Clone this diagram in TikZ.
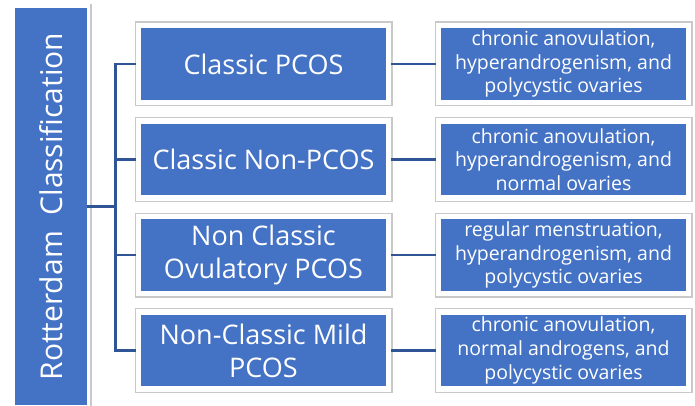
\documentclass[tikz,border=0pt]{standalone}
\usepackage{fontspec}
\setmainfont{Open Sans}
\usetikzlibrary{positioning}
\definecolor{boxblue}{HTML}{4472C4}
\definecolor{linkblue}{HTML}{2F5597}
\definecolor{edgegray}{HTML}{C9C9C9}

\begin{document}
\begin{tikzpicture}[x=1pt, y=-1pt,
        box/.style={fill=boxblue, draw=white, line width=5.4pt,
            preaction={draw=edgegray, line width=8pt},
            minimum width=250pt, minimum height=77pt, inner sep=0pt,
            text=white, align=center},
        classbox/.style={box, font=\fontsize{27}{33}\selectfont},
        featbox/.style={box, font=\fontsize{19.5}{23.7}\selectfont},
        link/.style={draw=linkblue, line width=2.8pt}]
        \useasboundingbox (0,0) rectangle (695,406);

        % root
        \node[fill=boxblue, minimum width=72pt, minimum height=397pt, inner sep=0pt,
            text=white, font=\fontsize{30}{36}\selectfont] (root) at (51,206.5)
            {\rotatebox{90}{Rotterdam\ \ Classification}};
        \draw[edgegray, line width=1.3pt] (91,4) -- (91,406);

        % classes
        \node[classbox] (classic) at (263.5,64) {Classic PCOS};
        \node[classbox, below of=classic, node distance=95.5pt] (nonpcos) {Classic Non-PCOS};
        \node[classbox, below of=nonpcos, node distance=95.5pt] (ovulatory) {Non Classic\\Ovulatory PCOS};
        \node[classbox, below of=ovulatory, node distance=95.5pt] (mild) {Non-Classic Mild\\PCOS};

        % features
        \node[featbox, right of=classic, node distance=300pt] (classicf)
            {chronic anovulation,\\hyperandrogenism, and\\polycystic ovaries};
        \node[featbox, right of=nonpcos, node distance=300pt] (nonpcosf)
            {chronic anovulation,\\hyperandrogenism, and\\normal ovaries};
        \node[featbox, right of=ovulatory, node distance=300pt] (ovulatoryf)
            {regular menstruation,\\hyperandrogenism, and\\polycystic ovaries};
        \node[featbox, right of=mild, node distance=300pt] (mildf)
            {chronic anovulation,\\normal androgens, and\\polycystic ovaries};

        \coordinate (hub) at ([xshift=28pt]root.east);
        \draw[link] (root.east) -- (hub);
        \foreach \n in {classic,nonpcos,ovulatory,mild}{
            \draw[link] (hub) |- (\n.west);
            \draw[link] (\n) -- (\n f);
        }
    \end{tikzpicture}
\end{document}
